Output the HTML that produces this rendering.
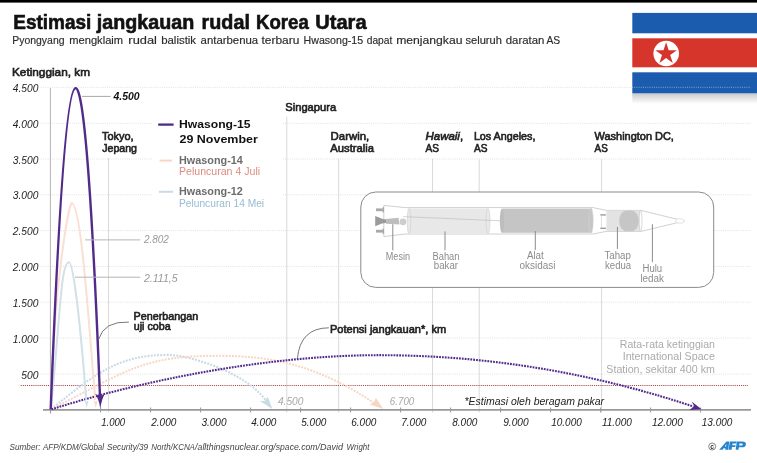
<!DOCTYPE html>
<html><head><meta charset="utf-8">
<style>
html,body{margin:0;padding:0;background:#fff;}
body{width:757px;height:463px;overflow:hidden;}
svg{display:block;will-change:transform;}
text{font-family:"Liberation Sans",sans-serif;}
.b{font-weight:bold;}
.i{font-style:italic;}
</style></head>
<body>
<svg width="757" height="463" viewBox="0 0 757 463">
<rect x="0" y="0" width="757" height="463" fill="#fff"/>
<!-- top bar -->
<rect x="0" y="0" width="757" height="2.6" fill="#000"/>

<!-- title -->
<g class="b" font-size="19.5" fill="#111" stroke="#111" stroke-width="0.6">
<text x="13.30" y="28.5" textLength="78.01" lengthAdjust="spacingAndGlyphs">Estimasi</text>
<text x="96.82" y="28.5" textLength="97.38" lengthAdjust="spacingAndGlyphs">jangkauan</text>
<text x="201.60" y="28.5" textLength="48.30" lengthAdjust="spacingAndGlyphs">rudal</text>
<text x="256.10" y="28.5" textLength="52.68" lengthAdjust="spacingAndGlyphs">Korea</text>
<text x="315.30" y="28.5" textLength="51.25" lengthAdjust="spacingAndGlyphs">Utara</text>
</g>
<g font-size="10.4" fill="#2b2b2b" stroke="#2b2b2b" stroke-width="0.15">
<text x="12.27" y="44.4" textLength="52.25" lengthAdjust="spacingAndGlyphs">Pyongyang</text>
<text x="69.28" y="44.4" textLength="53.85" lengthAdjust="spacingAndGlyphs">mengklaim</text>
<text x="128.38" y="44.4" textLength="28.55" lengthAdjust="spacingAndGlyphs">rudal</text>
<text x="161.17" y="44.4" textLength="34.92" lengthAdjust="spacingAndGlyphs">balistik</text>
<text x="200.57" y="44.4" textLength="57.64" lengthAdjust="spacingAndGlyphs">antarbenua</text>
<text x="261.57" y="44.4" textLength="37.76" lengthAdjust="spacingAndGlyphs">terbaru</text>
<text x="303.57" y="44.4" textLength="59.55" lengthAdjust="spacingAndGlyphs">Hwasong-15</text>
<text x="366.77" y="44.4" textLength="25.55" lengthAdjust="spacingAndGlyphs">dapat</text>
<text x="396.18" y="44.4" textLength="66.35" lengthAdjust="spacingAndGlyphs">menjangkau</text>
<text x="465.47" y="44.4" textLength="36.45" lengthAdjust="spacingAndGlyphs">seluruh</text>
<text x="505.77" y="44.4" textLength="38.65" lengthAdjust="spacingAndGlyphs">daratan</text>
<text x="546.38" y="44.4" textLength="13.75" lengthAdjust="spacingAndGlyphs">AS</text>
</g>

<!-- flag -->
<g id="flag">
  <defs>
    <linearGradient id="shd" x1="0" y1="0" x2="0" y2="1">
      <stop offset="0" stop-color="#c9c9c9"/>
      <stop offset="0.5" stop-color="#e6e6e6"/>
      <stop offset="1" stop-color="#ffffff"/>
    </linearGradient>
  </defs>
  <rect x="632.3" y="93.4" width="125" height="10.5" fill="url(#shd)"/>
  <rect x="632.3" y="12.9" width="125" height="80.5" fill="#fff"/>
  <rect x="632.3" y="12.9" width="125" height="20.4" fill="#1b5cae"/>
  <rect x="632.3" y="38.3" width="125" height="29" fill="#d6352b"/>
  <rect x="632.3" y="72.3" width="125" height="21.1" fill="#1b5cae"/>
  <circle cx="666.2" cy="53.5" r="12.8" fill="#fff"/>
  <polygon points="666.1,42.3 668.7,50.2 676.9,50.2 670.2,55.0 672.8,62.9 666.1,58.1 659.4,62.9 662.0,55.0 655.3,50.2 663.5,50.2" fill="#d6352b"/>
</g>

<!-- gridlines -->
<g stroke="#e1e1e1" stroke-width="1" stroke-dasharray="1 1.2">
  <line x1="41" y1="87.3" x2="632" y2="87.3"/>
  <line x1="632" y1="87.3" x2="751" y2="87.3" stroke="#fff" stroke-opacity="0.45"/>
  <line x1="41" y1="123.3" x2="751" y2="123.3"/>
  <line x1="41" y1="159" x2="751" y2="159"/>
  <line x1="41" y1="194.8" x2="751" y2="194.8"/>
  <line x1="41" y1="230.6" x2="751" y2="230.6"/>
  <line x1="41" y1="266.4" x2="751" y2="266.4"/>
  <line x1="41" y1="302.2" x2="751" y2="302.2"/>
  <line x1="41" y1="338.1" x2="751" y2="338.1"/>
  <line x1="41" y1="374.1" x2="751" y2="374.1"/>
</g>

<rect x="152" y="100" width="130" height="115" fill="#fff"/>
<!-- y labels -->
<g class="i" font-size="10.6" fill="#222" text-anchor="end">
  <text x="38.4" y="91.8" textLength="25.6" lengthAdjust="spacingAndGlyphs">4.500</text>
  <text x="38.4" y="127.8" textLength="25.6" lengthAdjust="spacingAndGlyphs">4.000</text>
  <text x="38.4" y="163.5" textLength="25.6" lengthAdjust="spacingAndGlyphs">3.500</text>
  <text x="38.4" y="199.3" textLength="25.6" lengthAdjust="spacingAndGlyphs">3.000</text>
  <text x="38.4" y="235.1" textLength="25.6" lengthAdjust="spacingAndGlyphs">2.500</text>
  <text x="38.4" y="270.9" textLength="25.6" lengthAdjust="spacingAndGlyphs">2.000</text>
  <text x="38.4" y="306.7" textLength="25.6" lengthAdjust="spacingAndGlyphs">1.500</text>
  <text x="38.4" y="342.6" textLength="25.6" lengthAdjust="spacingAndGlyphs">1.000</text>
  <text x="38.4" y="378.6" textLength="17.2" lengthAdjust="spacingAndGlyphs">500</text>
</g>
<text x="12" y="75.8" font-size="10.5" fill="#222" stroke="#222" stroke-width="0.6" textLength="78" lengthAdjust="spacingAndGlyphs">Ketinggian, km</text>

<!-- vertical city lines -->
<g stroke="#d9d9d9" stroke-width="1">
  <line x1="50.4" y1="88" x2="50.4" y2="413" stroke="#b2b2b2"/>
  <line x1="108.5" y1="158" x2="108.5" y2="412.5"/>
  <line x1="286.8" y1="116.5" x2="286.8" y2="412.5"/>
  <line x1="338.7" y1="158.7" x2="338.7" y2="412.5"/>
  <line x1="432.5" y1="158.7" x2="432.5" y2="412.5"/>
  <line x1="479.2" y1="159.4" x2="479.2" y2="412.5"/>
  <line x1="601.6" y1="159.4" x2="601.6" y2="412.5"/>
</g>

<!-- city labels -->
<g font-size="10.5" fill="#222" stroke="#222" stroke-width="0.6">
  <text x="102" y="139.5" textLength="31.6" lengthAdjust="spacingAndGlyphs">Tokyo,</text>
  <text x="102.2" y="152.2" textLength="34.8" lengthAdjust="spacingAndGlyphs">Jepang</text>
  <text x="285.3" y="111.3" textLength="50.8" lengthAdjust="spacingAndGlyphs">Singapura</text>
  <text x="330.6" y="139.7" textLength="38.6" lengthAdjust="spacingAndGlyphs">Darwin,</text>
  <text x="330.3" y="152.2" textLength="43.7" lengthAdjust="spacingAndGlyphs">Australia</text>
  <text x="425.5" y="140" textLength="37.6" lengthAdjust="spacingAndGlyphs"><tspan font-style="italic">Hawaii</tspan>,</text>
  <text x="425.5" y="152.1" textLength="13.5" lengthAdjust="spacingAndGlyphs">AS</text>
  <text x="473.9" y="140" textLength="61.5" lengthAdjust="spacingAndGlyphs">Los Angeles,</text>
  <text x="473.9" y="152.1" textLength="13.5" lengthAdjust="spacingAndGlyphs">AS</text>
  <text x="594.6" y="139.7" textLength="79.3" lengthAdjust="spacingAndGlyphs">Washington DC,</text>
  <text x="594.6" y="152.2" textLength="13.2" lengthAdjust="spacingAndGlyphs">AS</text>
</g>

<!-- legend -->
<line x1="158.2" y1="124.6" x2="173.6" y2="124.6" stroke="#51298a" stroke-width="2.3"/>
<text x="179" y="127.6" class="b" font-size="11" fill="#111" textLength="71.6" lengthAdjust="spacingAndGlyphs">Hwasong-15</text>
<text x="179.5" y="142.5" class="b" font-size="11" fill="#111" textLength="78.4" lengthAdjust="spacingAndGlyphs">29 November</text>
<line x1="159.6" y1="160.6" x2="172" y2="160.6" stroke="#f8d6c6" stroke-width="2"/>
<text x="179" y="163.7" class="b" font-size="10.5" fill="#6c6c6c" textLength="63.8" lengthAdjust="spacingAndGlyphs">Hwasong-14</text>
<text x="179" y="175.1" font-size="10.5" fill="#dd8a7e" textLength="81.1" lengthAdjust="spacingAndGlyphs">Peluncuran 4 Juli</text>
<line x1="158.8" y1="191.8" x2="173.2" y2="191.8" stroke="#cbdbe4" stroke-width="2"/>
<text x="179" y="195.3" class="b" font-size="10.5" fill="#6c6c6c" textLength="63.8" lengthAdjust="spacingAndGlyphs">Hwasong-12</text>
<text x="179" y="207" font-size="10.5" fill="#97bbd1" textLength="85.1" lengthAdjust="spacingAndGlyphs">Peluncuran 14 Mei</text>

<!-- rocket box -->
<rect x="360.8" y="192" width="352.9" height="95.4" rx="15" ry="15" fill="#fff" stroke="#8a8a8a" stroke-width="1"/>
<g id="rocket">
  <!-- body outline -->
  <path d="M383.8,205.4 L405,207.6 L593,207.6 L606.2,210.4 L641,210.4 L684.3,221 L641,231.4 L606.2,231.4 L593,234 L405,234 L383.8,236.6 Z" fill="#fff" stroke="#c4c4c4" stroke-width="0.8"/>
  <!-- fuel tank -->
  <rect x="409" y="208.4" width="79" height="25.4" fill="#e8e8e8"/>
  <ellipse cx="409" cy="221.1" rx="1.8" ry="12.7" fill="#e8e8e8" stroke="#cfcfcf" stroke-width="0.6"/>
  <ellipse cx="488" cy="221.1" rx="2" ry="12.7" fill="#e8e8e8" stroke="#cfcfcf" stroke-width="0.6"/>
  <!-- oxidizer tank -->
  <rect x="502" y="208.6" width="89" height="24.2" fill="#c5c5c5"/>
  <ellipse cx="502" cy="220.7" rx="2.2" ry="12.1" fill="#bdbdbd"/>
  <ellipse cx="591" cy="220.7" rx="2.2" ry="12.6" fill="#c5c5c5" stroke="#d5d5d5" stroke-width="0.6"/>
  <!-- feed line -->
  <path d="M403,216.6 L500.5,220.8" fill="none" stroke="#b8b8b8" stroke-width="0.6"/>
  <!-- engine -->
  <path d="M375.2,216.1 L375.2,226.2 Q382,222.6 388.5,222.4 L388.5,219.8 Q382,219.6 375.2,216.1 Z" fill="#9b9b9b"/>
  <path d="M386,219 L398.5,217.8 L399.5,224.5 L386,223.8 Z" fill="#bdbdbd"/>
  <circle cx="403" cy="221.8" r="3.4" fill="#cdcdcd"/>
  <rect x="376" y="208.4" width="7.6" height="2.8" fill="#a9a9a9"/>
  <rect x="382.6" y="207.2" width="1.4" height="5.2" fill="#a9a9a9"/>
  <rect x="376" y="229.8" width="7.6" height="2.8" fill="#a9a9a9"/>
  <rect x="382.6" y="228.6" width="1.4" height="5.2" fill="#a9a9a9"/>
  <!-- interstage verniers -->
  <rect x="600.3" y="214.2" width="5.6" height="1.4" fill="#9d9d9d"/>
  <rect x="600.3" y="227.6" width="5.6" height="1.4" fill="#9d9d9d"/>
  <line x1="601.4" y1="215.5" x2="601.4" y2="227.6" stroke="#c8c8c8" stroke-width="0.6"/>
  <!-- second stage -->
  <rect x="606.4" y="210.6" width="34.4" height="20.6" fill="#e3e3e3"/>
  <rect x="619.2" y="210.6" width="19.6" height="20.6" rx="7.5" ry="10.3" fill="#c6c6c6"/>
  <ellipse cx="640.6" cy="220.9" rx="1.4" ry="10.3" fill="#fff" stroke="#c0c0c0" stroke-width="0.6"/>
  <ellipse cx="679.8" cy="221" rx="4.2" ry="2.2" fill="#fff" stroke="#cfcfcf" stroke-width="0.6"/>
  <!-- label lines -->
  <g stroke="#8c8c8c" stroke-width="1">
    <line x1="392.8" y1="224.2" x2="392.8" y2="250.3"/>
    <line x1="445" y1="231.4" x2="445" y2="250.3"/>
    <line x1="535.3" y1="231" x2="535.3" y2="250.1"/>
    <line x1="617.4" y1="227" x2="617.4" y2="248.9"/>
    <line x1="652.4" y1="224.2" x2="652.4" y2="262.2"/>
  </g>
  <g font-size="10" fill="#8c8c8c">
    <text x="385.8" y="259.8" textLength="24.2" lengthAdjust="spacingAndGlyphs">Mesin</text>
    <text x="432.5" y="259.8" textLength="27" lengthAdjust="spacingAndGlyphs">Bahan</text>
    <text x="433.8" y="268.8" textLength="24.2" lengthAdjust="spacingAndGlyphs">bakar</text>
    <text x="526.9" y="259.4" textLength="16.9" lengthAdjust="spacingAndGlyphs">Alat</text>
    <text x="519.5" y="268.5" textLength="35.9" lengthAdjust="spacingAndGlyphs">oksidasi</text>
    <text x="604.5" y="259.4" textLength="26.4" lengthAdjust="spacingAndGlyphs">Tahap</text>
    <text x="605.1" y="268.5" textLength="26" lengthAdjust="spacingAndGlyphs">kedua</text>
    <text x="642.5" y="271.7" textLength="19.7" lengthAdjust="spacingAndGlyphs">Hulu</text>
    <text x="640.4" y="282.3" textLength="23.5" lengthAdjust="spacingAndGlyphs">ledak</text>
  </g>
</g>

<!-- ISS line -->
<line x1="20.7" y1="385.5" x2="748" y2="385.5" stroke="#a84848" stroke-width="1" stroke-dasharray="1.1 1"/>

<!-- x axis -->
<line x1="43" y1="409.9" x2="751" y2="409.9" stroke="#999" stroke-width="1.6"/>
<g stroke="#999" stroke-width="1">
  <line x1="50.6" y1="407.5" x2="50.6" y2="413.5"/>
  <line x1="100.6" y1="407.5" x2="100.6" y2="412.5"/>
  <line x1="150.6" y1="407.5" x2="150.6" y2="412.5"/>
  <line x1="200.6" y1="407.5" x2="200.6" y2="412.5"/>
  <line x1="250.6" y1="407.5" x2="250.6" y2="412.5"/>
  <line x1="300.6" y1="407.5" x2="300.6" y2="412.5"/>
  <line x1="350.6" y1="407.5" x2="350.6" y2="412.5"/>
  <line x1="400.6" y1="407.5" x2="400.6" y2="412.5"/>
  <line x1="450.6" y1="407.5" x2="450.6" y2="412.5"/>
  <line x1="500.6" y1="407.5" x2="500.6" y2="412.5"/>
  <line x1="550.6" y1="407.5" x2="550.6" y2="412.5"/>
  <line x1="600.6" y1="407.5" x2="600.6" y2="412.5"/>
  <line x1="650.6" y1="407.5" x2="650.6" y2="412.5"/>
  <line x1="700.6" y1="407.5" x2="700.6" y2="412.5"/>
</g>
<g class="i" font-size="10.6" fill="#222">
  <text x="101.2" y="425.9" textLength="24" lengthAdjust="spacingAndGlyphs">1.000</text>
  <text x="151.2" y="425.9" textLength="25.1" lengthAdjust="spacingAndGlyphs">2.000</text>
  <text x="201.4" y="425.9" textLength="25.1" lengthAdjust="spacingAndGlyphs">3.000</text>
  <text x="251.2" y="425.9" textLength="25.1" lengthAdjust="spacingAndGlyphs">4.000</text>
  <text x="301.2" y="425.9" textLength="25.1" lengthAdjust="spacingAndGlyphs">5.000</text>
  <text x="351.2" y="425.9" textLength="25.1" lengthAdjust="spacingAndGlyphs">6.000</text>
  <text x="401.2" y="425.9" textLength="25.1" lengthAdjust="spacingAndGlyphs">7.000</text>
  <text x="452.2" y="425.9" textLength="25.1" lengthAdjust="spacingAndGlyphs">8.000</text>
  <text x="503.2" y="425.9" textLength="25.4" lengthAdjust="spacingAndGlyphs">9.000</text>
  <text x="551.2" y="425.9" textLength="30.6" lengthAdjust="spacingAndGlyphs">10.000</text>
  <text x="601.9" y="425.9" textLength="30" lengthAdjust="spacingAndGlyphs">11.000</text>
  <text x="651.9" y="425.9" textLength="31" lengthAdjust="spacingAndGlyphs">12.000</text>
  <text x="701.8" y="425.9" textLength="30.5" lengthAdjust="spacingAndGlyphs">13.000</text>
</g>

<!-- dotted potential trajectories -->
<path d="M51.00,409.30 C98.39,370.95 120.15,354.91 168.47,354.91 C187.45,354.91 249.58,372.32 268.5,404.5" fill="none" stroke="#c6dae5" stroke-width="2.1" stroke-dasharray="1.9 1.3"/>
<path d="M51.00,409.30 C131.65,368.23 144.59,355.82 218.92,355.82 C271.26,355.82 319.51,365.15 377.5,405.5" fill="none" stroke="#f8d6c6" stroke-width="2.1" stroke-dasharray="1.9 1.3"/>
<path d="M51.50,409.30 C149.26,378.33 273.05,355.17 378.69,355.17 C480.23,355.17 585.35,370.51 693.50,406.56" fill="none" stroke="#522a8b" stroke-width="2.1" stroke-dasharray="1.8 1.05"/>

<!-- solid flight trajectories -->
<path d="M50.70,409.80 C60.12,320.47 60.54,262.30 68.97,262.30 C72.83,262.30 79.44,312.07 86.23,400.00" fill="none" stroke="#d2e0e8" stroke-width="2"/>
<path d="M86.6,408 L84.9,400.5 L86.4,401.5 L88.4,400.5 Z" fill="#cfdee7"/>
<path d="M50.70,409.80 C54.03,278.48 69.56,203.05 71.48,203.05 C79.41,203.05 85.23,272.52 95.25,400.00" fill="none" stroke="#fadfd2" stroke-width="2"/>
<path d="M95.8,408 L93.8,400.5 L95.6,401.5 L97.6,400.5 Z" fill="#f9d9ca"/>
<path d="M50.70,409.80 Q75.37,-227.64 100.04,398.00" fill="none" stroke="#522a8b" stroke-width="2.4"/>
<!-- arrowheads -->
<path d="M100.3,408.6 Q99,399.5 95.2,393.8 L100,396.4 L104.9,393.8 Q101.6,399.5 100.3,408.6 Z" fill="#522a8b"/>
<path d="M701.6,409.3 L691.6,401.6 L694.2,406.1 L689.6,409.9 Z" fill="#522a8b"/>
<path d="M272.4,409.1 L259.9,401.1 L264.5,401 L267.8,396.7 Z" fill="#c8dce6"/>
<path d="M383.3,409.1 L369.9,404.5 L374,402 L375.9,398 Z" fill="#f8d5c4"/>

<!-- peak labels -->
<line x1="81.8" y1="96.4" x2="110.6" y2="96.4" stroke="#a8a8a8" stroke-width="1"/>
<text x="113.5" y="100.2" class="b i" font-size="10.5" fill="#111" textLength="26.2" lengthAdjust="spacingAndGlyphs">4.500</text>
<line x1="85.1" y1="239.9" x2="140.3" y2="239.9" stroke="#b5b5b5" stroke-width="1"/>
<text x="143.9" y="243.2" class="i" font-size="10.5" fill="#999" textLength="25" lengthAdjust="spacingAndGlyphs">2.802</text>
<line x1="75" y1="277.2" x2="140.3" y2="277.2" stroke="#b5b5b5" stroke-width="1"/>
<text x="143.9" y="282.4" class="i" font-size="10.5" fill="#999" textLength="33.7" lengthAdjust="spacingAndGlyphs">2.111,5</text>
<text x="277.9" y="404.5" class="i" font-size="10.5" fill="#a8a8a8" textLength="25.5" lengthAdjust="spacingAndGlyphs">4.500</text>
<text x="389.8" y="404.5" class="i" font-size="10.5" fill="#a8a8a8" textLength="24.5" lengthAdjust="spacingAndGlyphs">6.700</text>

<!-- annotations -->
<path d="M128.9,322.1 Q104,321 98.7,339.1" fill="none" stroke="#555" stroke-width="0.8"/>
<text x="133.6" y="319.5" font-size="10.5" fill="#222" stroke="#222" stroke-width="0.6" textLength="64.7" lengthAdjust="spacingAndGlyphs">Penerbangan</text>
<text x="133.8" y="330" font-size="10.5" fill="#222" stroke="#222" stroke-width="0.6" textLength="36.8" lengthAdjust="spacingAndGlyphs">uji coba</text>
<path d="M328.8,327.8 Q300,328 297.4,358.8" fill="none" stroke="#555" stroke-width="0.8"/>
<text x="329.9" y="332.5" font-size="10.5" fill="#222" stroke="#222" stroke-width="0.6" textLength="116.3" lengthAdjust="spacingAndGlyphs">Potensi jangkauan*, km</text>
<text x="464.5" y="404.8" class="i" font-size="10.5" fill="#222" textLength="139.5" lengthAdjust="spacingAndGlyphs">*Estimasi oleh beragam pakar</text>

<!-- ISS text -->
<g font-size="10.5" fill="#aaa" text-anchor="end">
  <text x="714.9" y="347.8" textLength="95.1" lengthAdjust="spacingAndGlyphs">Rata-rata ketinggian</text>
  <text x="714.9" y="360.4" textLength="92.2" lengthAdjust="spacingAndGlyphs">International Space</text>
  <text x="714.9" y="372.7" textLength="108.6" lengthAdjust="spacingAndGlyphs">Station, sekitar 400 km</text>
</g>

<!-- footer -->
<g class="i" font-size="9" fill="#444">
<text x="9.60" y="449.8" textLength="30.80" lengthAdjust="spacingAndGlyphs">Sumber:</text>
<text x="43.00" y="449.8" textLength="61.12" lengthAdjust="spacingAndGlyphs">AFP/KDM/Global</text>
<text x="107.00" y="449.8" textLength="41.20" lengthAdjust="spacingAndGlyphs">Security/39</text>
<text x="151.30" y="449.8" textLength="43.60" lengthAdjust="spacingAndGlyphs">North/KCNA</text>
<text x="195.10" y="449.8" textLength="78.30" lengthAdjust="spacingAndGlyphs">/allthingsnuclear.org</text>
<text x="273.29" y="449.8" textLength="44.31" lengthAdjust="spacingAndGlyphs">/space.com</text>
<text x="317.51" y="449.8" textLength="25.55" lengthAdjust="spacingAndGlyphs">/David</text>
<text x="346.50" y="449.8" textLength="22.92" lengthAdjust="spacingAndGlyphs">Wright</text>
</g>
<circle cx="712.2" cy="446.5" r="3.5" fill="none" stroke="#6a6a6a" stroke-width="0.8"/>
<text x="712.2" y="448.7" font-size="6.8" font-weight="bold" text-anchor="middle" fill="#333">c</text>
<g fill="#2684cf" fill-rule="evenodd">
  <path d="M719.2,449.8 L722.6,449.8 L723.6,448.2 L725.4,448.2 L725.2,449.8 L728.3,449.8 L729.2,441.6 L726.4,441.6 Z M724.7,446.6 L726.1,446.6 L726.4,443.9 Z"/>
  <path d="M728.6,449.8 L731.6,449.8 L732.0,447.0 L735.3,447.0 L735.6,445.2 L732.3,445.2 L732.5,443.6 L736.4,443.6 L736.7,441.6 L729.8,441.6 Z"/>
  <path d="M735.6,449.8 L738.5,449.8 L738.9,447.3 L741.9,447.3 Q745.6,447.3 745.9,444.4 Q746.1,441.6 742.3,441.6 L736.9,441.6 Z M739.1,445.4 L739.4,443.5 L741.6,443.5 Q742.9,443.5 742.8,444.4 Q742.7,445.4 741.4,445.4 Z"/>
</g>

</svg>
</body></html>
